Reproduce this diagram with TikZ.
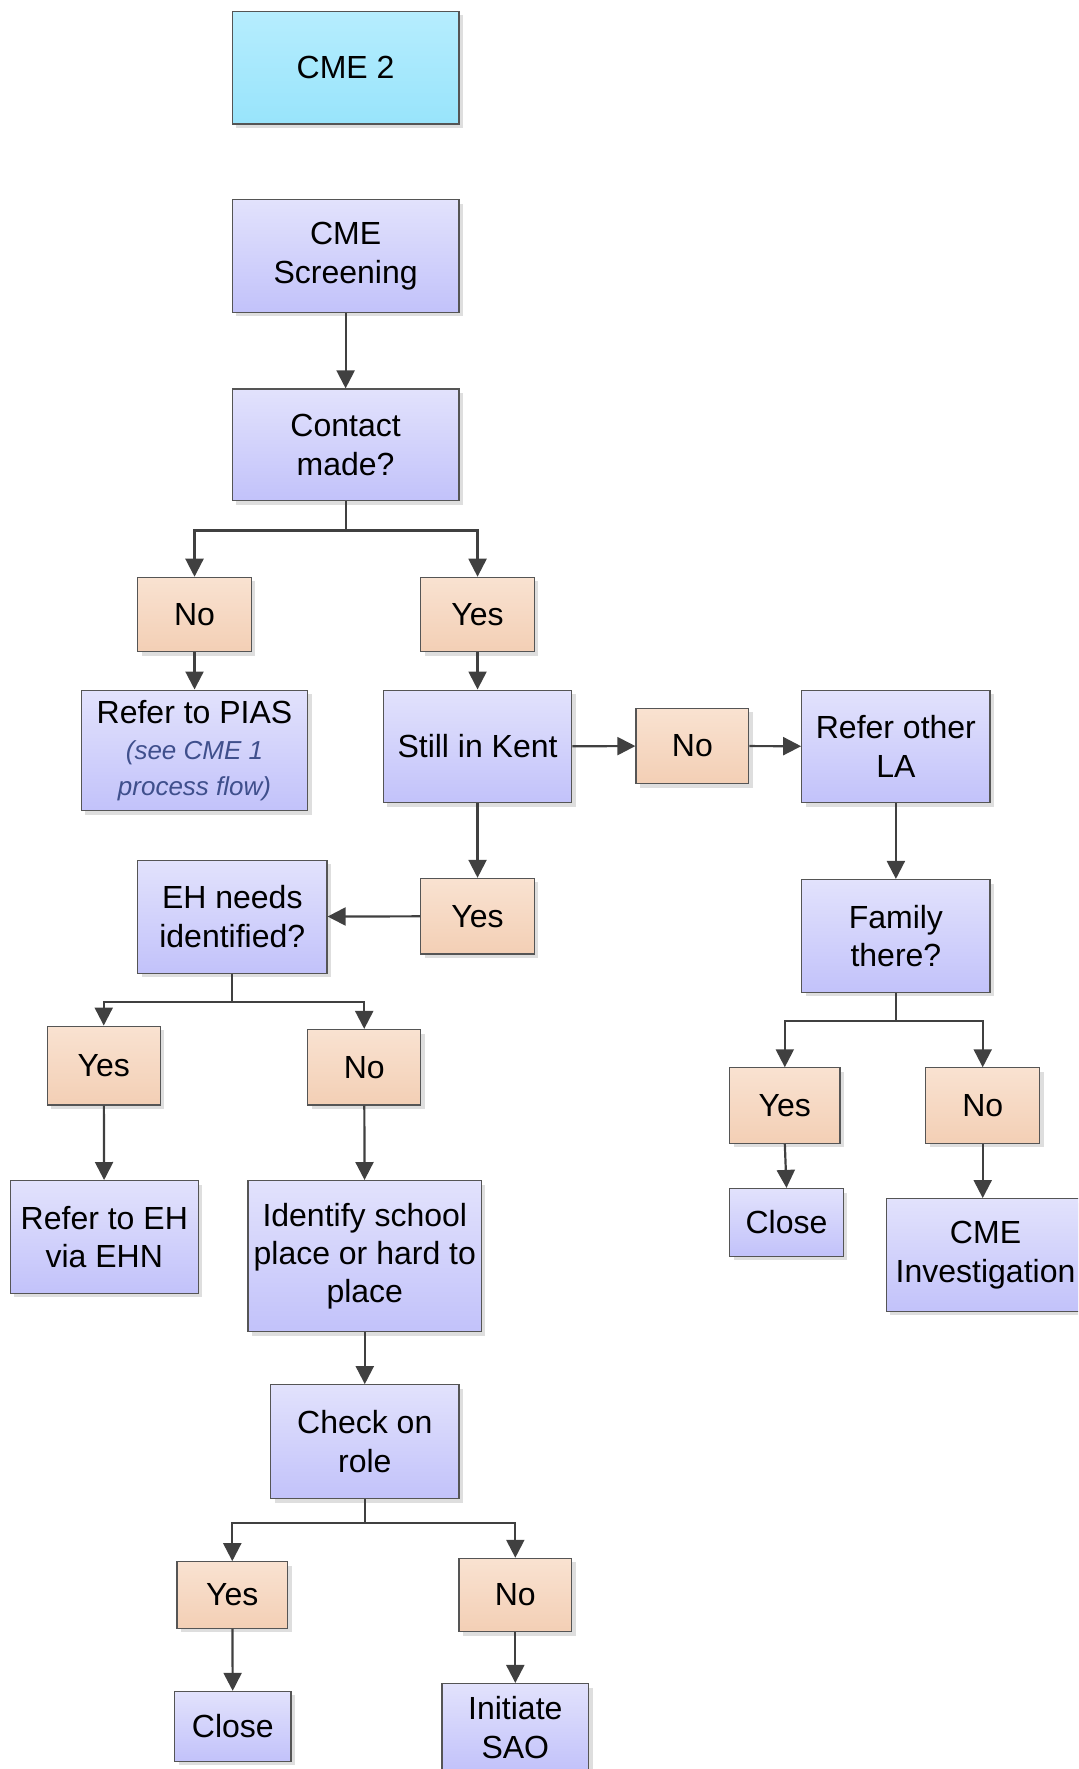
\documentclass[tikz,border=0pt]{standalone}
\usepackage{fontspec}
\setmainfont{Liberation Sans}
\usetikzlibrary{arrows.meta,shadows}
\definecolor{bordergray}{RGB}{85,85,85}
\definecolor{arrowgray}{RGB}{64,64,64}
\definecolor{shadowgray}{RGB}{222,222,222}
\definecolor{procTop}{RGB}{226,226,252}
\definecolor{procBot}{RGB}{194,194,250}
\definecolor{decTop}{RGB}{249,226,209}
\definecolor{decBot}{RGB}{243,207,181}
\definecolor{cyanTop}{RGB}{182,237,254}
\definecolor{cyanBot}{RGB}{152,228,251}
\definecolor{piasblue}{RGB}{63,79,140}
\def\pxu{0.5638pt}
\newcommand\piasnote[1]{{\fontsize{13}{18}\selectfont\itshape\color{piasblue}#1}}
\tikzset{
  base/.style={draw=bordergray, line width=0.6pt, inner sep=0pt, align=center,
    font=\fontsize{16}{19.2}\selectfont,
    general shadow={shadow xshift=2pt, shadow yshift=-2pt, fill=shadowgray}},
  proc/.style={base, top color=procTop, bottom color=procBot},
  dec/.style={base, top color=decTop, bottom color=decBot},
  startbox/.style={base, top color=cyanTop, bottom color=cyanBot},
  sz/.style 2 args={minimum width=#1*\pxu, minimum height=#2*\pxu},
  arr/.style={draw=arrowgray, line width=1.1pt, -{Triangle[length=9pt,width=9pt]}},
}
\begin{document}
\begin{tikzpicture}[x=0.5638pt, y=-0.5638pt]
\useasboundingbox (0,0) rectangle (956,1568.8);
\clip (0,0) rectangle (956,1568.8);
% nodes
\node[startbox, sz={201}{100}] (cme2) at (306.5,60) {CME 2};
\node[proc, sz={201}{100}] (screen) at (306.5,227) {CME\\Screening};
\node[proc, sz={201}{99}] (contact) at (306.5,394.5) {Contact\\made?};
\node[dec, sz={101}{66}] (no1) at (172.5,545) {No};
\node[dec, sz={101}{66}] (yes1) at (423.5,545) {Yes};
\node[proc, sz={201}{107}, font=\fontsize{16}{18}\selectfont] (pias) at (172.5,665.5)
  {Refer to PIAS\\\piasnote{(see CME 1}\\\piasnote{process flow)}};
\node[proc, sz={167}{100}] (kent) at (423.5,662) {Still in Kent};
\node[dec, sz={100}{67}] (no2) at (614,661.5) {No};
\node[proc, sz={167}{100}] (otherla) at (794.5,662) {Refer other\\LA};
\node[dec, sz={101}{67}] (yes2) at (423.5,812.5) {Yes};
\node[proc, sz={168}{100}] (eh) at (206,813) {EH needs\\identified?};
\node[dec, sz={100}{70}] (yes3) at (92,945) {Yes};
\node[dec, sz={100}{67}] (no3) at (323,946.5) {No};
\node[proc, sz={167}{100}] (refereh) at (92.5,1097) {Refer to EH\\via EHN};
\node[proc, sz={207}{134}] (identify) at (323.5,1114) {Identify school\\place or hard to\\place};
\node[proc, sz={167}{101}] (check) at (323.5,1278.5) {Check on\\role};
\node[dec, sz={98}{59}] (yes4) at (206,1414.5) {Yes};
\node[dec, sz={100}{65}] (no4) at (457,1414.5) {No};
\node[proc, sz={103}{62}] (close1) at (206.5,1531) {Close};
\node[proc, sz={130}{78}] (sao) at (457,1532) {Initiate\\SAO};
\node[proc, sz={167}{100}] (family) at (794.5,830) {Family\\there?};
\node[dec, sz={98}{67}] (yes5) at (696,980.5) {Yes};
\node[dec, sz={101}{67}] (no5) at (871.5,980.5) {No};
\node[proc, sz={101}{60}] (close2) at (697.5,1084) {Close};
\node[proc, sz={176}{100}] (cmeinv) at (874,1113) {CME\\Investigation};
% connectors
\draw[arr] (screen) -- (contact);
\draw[arr] (contact.south) -- ++(0,26) -| (no1.north);
\draw[arr] (contact.south) -- ++(0,26) -| (yes1.north);
\draw[arr] (no1) -- (pias);
\draw[arr] (yes1) -- (kent);
\draw[arr] (kent) -- (no2);
\draw[arr] (no2) -- (otherla);
\draw[arr] (kent) -- (yes2);
\draw[arr] (yes2) -- (eh);
\draw[arr] (otherla) -- (family);
\draw[arr] (eh.south) -- ++(0,25) -| (yes3.north);
\draw[arr] (eh.south) -- ++(0,25) -| (no3.north);
\draw[arr] (yes3) -- (refereh);
\draw[arr] (no3) -- (identify);
\draw[arr] (identify) -- (check);
\draw[arr] (check.south) -- ++(0,21) -| (yes4.north);
\draw[arr] (check.south) -- ++(0,21) -| (no4.north);
\draw[arr] (yes4) -- (close1);
\draw[arr] (no4) -- (sao);
\draw[arr] (family.south) -- ++(0,25) -| (yes5.north);
\draw[arr] (family.south) -- ++(0,25) -| (no5.north);
\draw[arr] (yes5.south) -- (close2.north);
\draw[arr] (no5.south) -- (no5.south |- cmeinv.north);
\end{tikzpicture}
\end{document}
